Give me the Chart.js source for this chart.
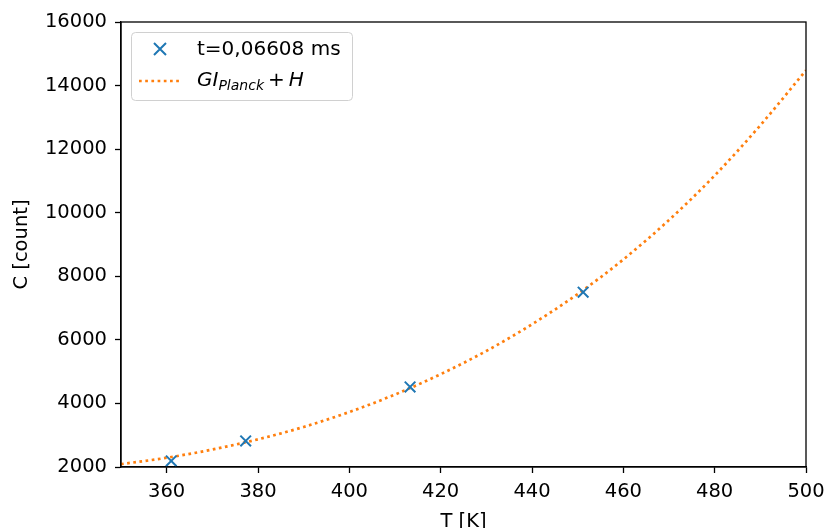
<!DOCTYPE html>
<html><head><meta charset="utf-8">
<script src="https://cdn.jsdelivr.net/npm/chart.js@4/dist/chart.umd.min.js"></script>
<style>html,body{margin:0;padding:0;background:#fff}#wrap{width:827px;height:528px}</style>
</head><body><div id="wrap"><canvas id="c" width="827" height="528"></canvas></div>
<script>
const measT = [361.0, 377.3, 413.3, 451.2];
const measC = [2190, 2820, 4520, 7500];
const fitT = [350, 360, 370, 380, 390, 400, 410, 420, 430, 440, 450, 460, 470, 480, 490, 500];
const fitC = [2090, 2290, 2550, 2870, 3260, 3730, 4280, 4920, 5650, 6490, 7440, 8530, 9770, 11170, 12750, 14480];
const xTicks = [360, 380, 400, 420, 440, 460, 480, 500];
const yTicks = [2000, 4000, 6000, 8000, 10000, 12000, 14000, 16000];
const legendLabel1 = 't=0,06608 ms';

const BLUE = '#1f77b4', ORANGE = '#ff7f0e';
const FONT = 'DejaVu Sans';
const FS = 19.5;
Chart.defaults.font.family = FONT;
Chart.defaults.font.size = FS;
Chart.defaults.color = '#000';

const framePlugin = {
  id: 'frame',
  afterDatasetsDraw(chart) {
    const {ctx, chartArea: a} = chart;
    ctx.save();
    ctx.strokeStyle = '#000'; ctx.lineWidth = 1.3;
    ctx.strokeRect(a.left, a.top, a.right - a.left, a.bottom - a.top);
    // legend
    const lx = 131, ly = 32, lw = 221, lh = 68, r = 4;
    ctx.beginPath();
    ctx.roundRect(lx + 0.5, ly + 0.5, lw, lh, r);
    ctx.fillStyle = 'rgba(255,255,255,0.8)'; ctx.fill();
    ctx.strokeStyle = '#d0d0d0'; ctx.lineWidth = 1; ctx.stroke();
    // marker x
    ctx.strokeStyle = BLUE; ctx.lineWidth = 2;
    const mx = 160, my = 49, ms = 6;
    ctx.beginPath();
    ctx.moveTo(mx - ms, my - ms); ctx.lineTo(mx + ms, my + ms);
    ctx.moveTo(mx + ms, my - ms); ctx.lineTo(mx - ms, my + ms);
    ctx.stroke();
    // dotted line
    ctx.strokeStyle = ORANGE; ctx.lineWidth = 2.7; ctx.setLineDash([2.7, 3.5]);
    ctx.beginPath(); ctx.moveTo(139, 81); ctx.lineTo(182, 81); ctx.stroke();
    ctx.setLineDash([]);
    ctx.fillStyle = '#000'; ctx.textBaseline = 'middle'; ctx.textAlign = 'left';
    ctx.font = '20px ' + FONT;
    ctx.fillText(legendLabel1, 197, 50);
    let x = 197;
    ctx.font = 'italic 20px ' + FONT;
    ctx.fillText('GI', x, 81); x += ctx.measureText('GI').width;
    ctx.font = 'italic 14px ' + FONT;
    ctx.fillText('Planck', x, 86); x += ctx.measureText('Planck').width + 4;
    ctx.font = '20px ' + FONT;
    ctx.fillText('+', x, 81); x += ctx.measureText('+').width + 4;
    ctx.font = 'italic 20px ' + FONT;
    ctx.fillText('H', x, 81);
    ctx.restore();
  }
};

new Chart(document.getElementById('c'), {
  type: 'scatter',
  data: {
    datasets: [
      {
        label: legendLabel1,
        data: measT.map((t, i) => ({x: t, y: measC[i]})),
        pointStyle: 'crossRot', pointRadius: 7.5, borderColor: BLUE, borderWidth: 2,
        backgroundColor: BLUE, showLine: false, order: 1
      },
      {
        label: 'GI_Planck + H',
        data: fitT.map((t, i) => ({x: t, y: fitC[i]})),
        showLine: true, pointRadius: 0, borderColor: ORANGE, borderWidth: 2.7,
        borderDash: [2.7, 3.5], cubicInterpolationMode: 'monotone', fill: false, order: 2
      }
    ]
  },
  plugins: [framePlugin],
  options: {
    responsive: false, animation: false,
    layout: {padding: {left: 0, right: 21, top: 22, bottom: 0}},
    plugins: {legend: {display: false}, tooltip: {enabled: false}},
    scales: {
      x: {
        type: 'linear', min: 350, max: 500,
        afterBuildTicks: s => { s.ticks = xTicks.map(v => ({value: v})); },
        afterFit: s => { s.height = 61; s.paddingRight = 0; s.paddingLeft = 0; },
        grid: {drawOnChartArea: false, tickLength: 6, color: '#000', tickWidth: 1.3},
        border: {display: true, color: '#000', width: 1.3},
        ticks: {padding: 7, maxRotation: 0, font: {size: FS}, callback: v => String(v)},
        title: {display: true, text: 'T [K]', font: {size: FS}, padding: {top: 0, bottom: -6}}
      },
      y: {
        type: 'linear', min: 2000, max: 16000,
        afterBuildTicks: s => { s.ticks = yTicks.map(v => ({value: v})); },
        afterFit: s => { s.width = 121; s.paddingTop = 0; s.paddingBottom = 0; },
        grid: {drawOnChartArea: false, tickLength: 6, color: '#000', tickWidth: 1.3},
        border: {display: true, color: '#000', width: 1.3},
        ticks: {padding: 8, font: {size: FS}, callback: v => String(v)},
        title: {display: true, text: 'C [count]', font: {size: FS}, padding: {top: 10, bottom: 0}}
      }
    }
  }
});
</script></body></html>
